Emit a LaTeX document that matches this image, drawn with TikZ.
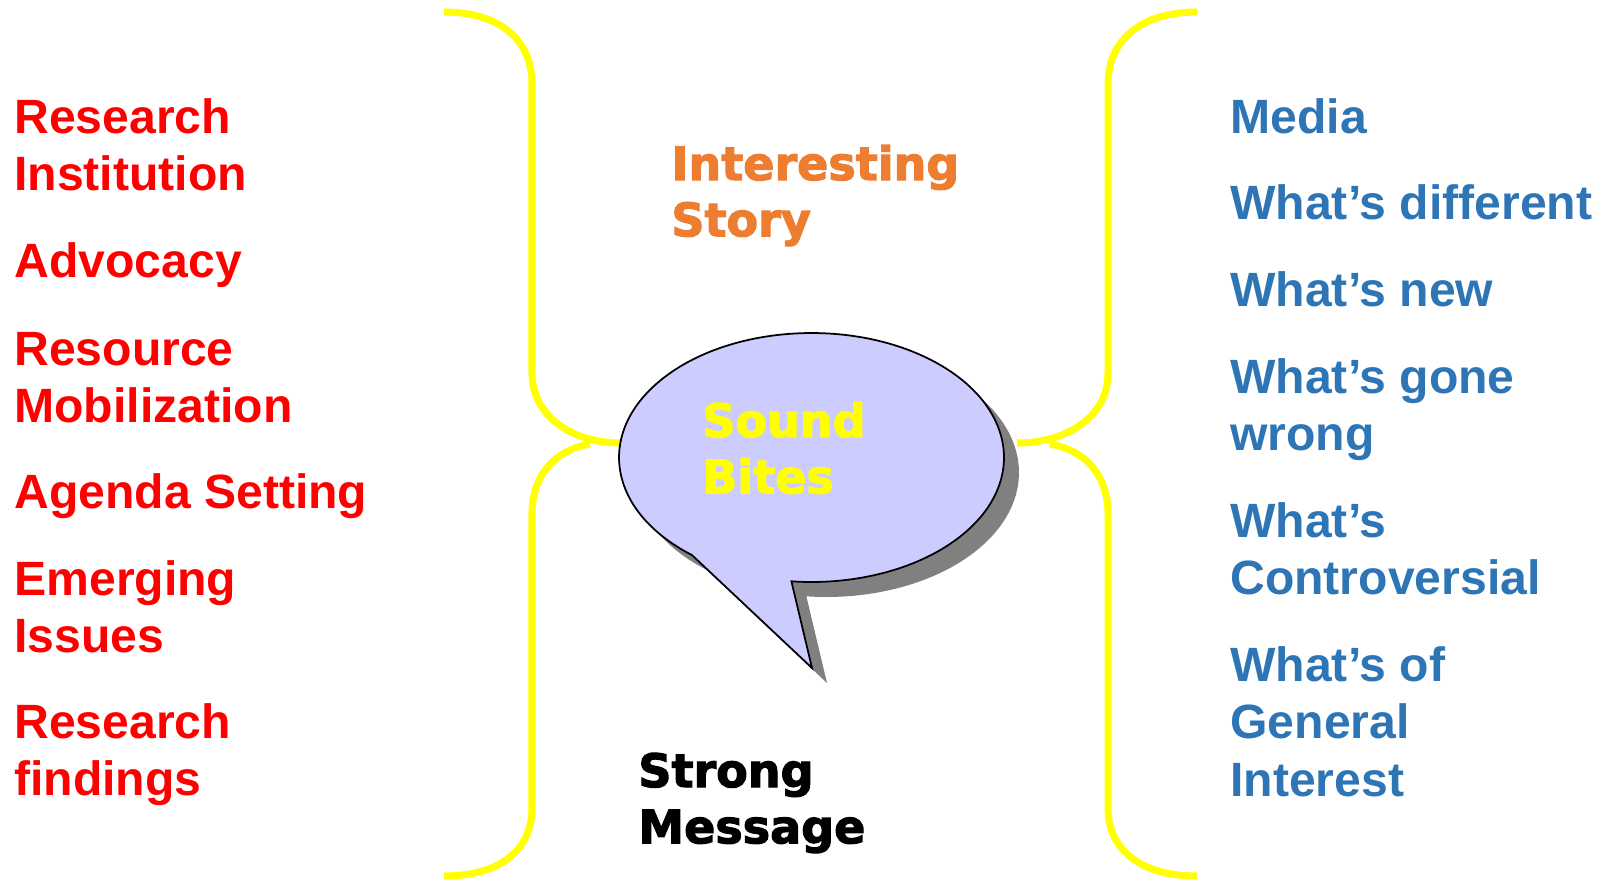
\documentclass[tikz,border=0pt]{standalone}
\usepackage{fontspec}
\setmainfont{Liberation Sans}
\newfontfamily\heavyfont{DejaVu Sans}[BoldFeatures={FakeBold=2.5}]
\usetikzlibrary{shadows}
\definecolor{bubblefill}{HTML}{CCCCFF}
\definecolor{mediablue}{HTML}{2E75B6}
\definecolor{storyorange}{HTML}{ED7D31}
\definecolor{bracegold}{HTML}{FFFF00}
% lines of a text, first baseline at the node's base
\newcommand\stacked[1]{\begin{tabular}[t]{@{}l@{}}#1\end{tabular}}

\begin{document}
\begin{tikzpicture}[x=0.02cm, y=0.02cm,
    item/.style={anchor=base west, inner sep=0pt,
      font=\bfseries\fontsize{27.4}{32.8}\selectfont},
    lefttext/.style={item, text=red},
    righttext/.style={item, text=mediablue},
    bigtext/.style={anchor=base west, inner sep=0pt,
      font=\heavyfont\bfseries\fontsize{26.2}{32}\selectfont},
    bracket/.style={draw=bracegold, line width=4pt}]
  \useasboundingbox (0,0) rectangle (1605,-880);

  % braces
  \draw[bracket] (444,-12) .. controls (500,-12) and (532,-40) .. (532,-84) -- (532,-373)
    .. controls (532,-418) and (575,-443) .. (620,-443);
  \draw[bracket] (590,-444) .. controls (555,-450) and (532,-475) .. (532,-514) -- (532,-808)
    .. controls (532,-850) and (500,-876) .. (444,-876);
  \draw[bracket] (1197,-12) .. controls (1141,-12) and (1108,-40) .. (1108,-84) -- (1108,-373)
    .. controls (1108,-418) and (1065,-443) .. (1017,-443);
  \draw[bracket] (1050,-444) .. controls (1085,-450) and (1108,-475) .. (1108,-514) -- (1108,-808)
    .. controls (1108,-850) and (1141,-876) .. (1197,-876);

  % speech bubble
  \coordinate (bc) at (811.5,-457.5);
  \coordinate (tip) at (812,-668);
  \draw[fill=bubblefill, line width=1pt,
    drop shadow={shadow xshift=0.3cm, shadow yshift=-0.3cm, fill=black!50, opacity=1}]
    (bc) ++(231.6:3.85cm and 2.49cm)
    arc[start angle=231.6, end angle=-96, x radius=3.85cm, y radius=2.49cm]
    -- (tip) -- cycle;

  \node[bigtext, text=storyorange] (story) at (671,-180) {\stacked{Interesting\\Story}};
  \node[bigtext, text=bracegold]   (bites) at (702,-437) {\stacked{Sound\\Bites}};
  \node[bigtext, text=black]       (msg)   at (638,-787) {\stacked{Strong\\Message}};

  % left column
  \node[lefttext] (inst)   at (14,-133) {\stacked{Research\\Institution}};
  \node[lefttext] (adv)    at (14,-277) {Advocacy};
  \node[lefttext] (mob)    at (14,-365) {\stacked{Resource\\Mobilization}};
  \node[lefttext] (agenda) at (14,-508) {Agenda Setting};
  \node[lefttext] (issues) at (14,-595) {\stacked{Emerging\\Issues}};
  \node[lefttext] (find)   at (14,-738) {\stacked{Research\\findings}};

  % right column
  \node[righttext] (media) at (1230,-133) {Media};
  \node[righttext] (diff)  at (1230,-219) {What’s different};
  \node[righttext] (new)   at (1230,-306) {What’s new};
  \node[righttext] (wrong) at (1230,-393) {\stacked{What’s gone\\wrong}};
  \node[righttext] (contr) at (1230,-537) {\stacked{What’s\\Controversial}};
  \node[righttext] (gen)   at (1230,-681) {\stacked{What’s of\\General\\Interest}};
\end{tikzpicture}
\end{document}
